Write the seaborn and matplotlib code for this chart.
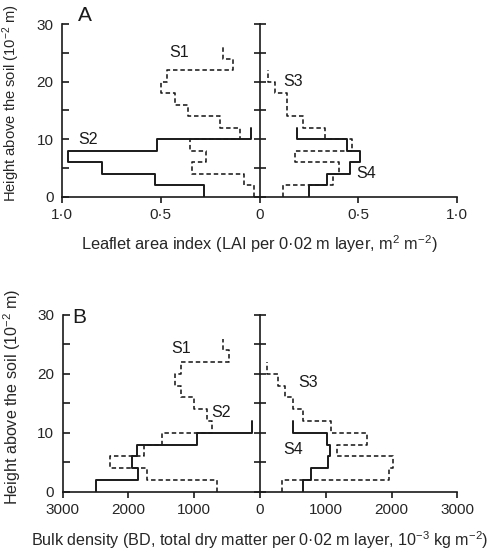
import pandas as pd
import matplotlib
matplotlib.use("Agg")
import matplotlib.pyplot as plt
import seaborn as sns
from matplotlib.ticker import FuncFormatter

# layer thickness in 10^-2 m, values listed from the soil upwards
LAYER = 2

# panel A: leaflet area index per 0.02 m layer
lai_s1 = [0.03, 0.08, 0.34, 0.27, 0.35, 0.10, 0.20, 0.36, 0.43, 0.50, 0.47, 0.135, 0.185]
lai_s2 = [0.28, 0.53, 0.80, 0.97, 0.52, 0.045]
lai_s3 = [0.12, 0.37, 0.40, 0.18, 0.47, 0.33, 0.22, 0.14, 0.14, 0.08, 0.04]
lai_s4 = [0.25, 0.34, 0.46, 0.51, 0.44, 0.19]

# panel B: bulk density per 0.02 m layer
bd_s1 = [655, 1720, 2280, 1760, 1490, 735, 810, 1000, 1200, 1290, 1200, 470, 560]
bd_s2 = [2490, 1850, 1940, 1870, 960, 130]
bd_s3 = [335, 1955, 2025, 1170, 1630, 1085, 650, 495, 385, 275, 110]
bd_s4 = [645, 770, 1035, 1060, 1020, 500]

lai_ticks = [-1.0, -0.5, 0, 0.5, 1.0]
bd_ticks = [-3000, -2000, -1000, 0, 1000, 2000, 3000]

sns.set_theme(style="ticks")
plt.rcParams["font.family"] = ["Liberation Sans", "DejaVu Sans"]
plt.rcParams["mathtext.fontset"] = "custom"
plt.rcParams["mathtext.rm"] = "Liberation Sans"

INK = "#1a1a1a"
TICK_SIZE = 11
YLABEL = "Height above the soil (10$\\mathregular{^{-2}}$ m)"


def step_profile(values, side):
    """Expand layer values into a vertical step outline (side=-1 for left)."""
    rows = []
    for i, v in enumerate(values):
        rows.append((side * v, i * LAYER))
        rows.append((side * v, (i + 1) * LAYER))
    return pd.DataFrame(rows, columns=["x", "height"])


def draw_profile(ax, values, side, dashed):
    df = step_profile(values, side)
    sns.lineplot(data=df, x="x", y="height", sort=False, estimator=None,
                 color=INK, lw=1.15 if dashed else 1.4,
                 ls=(0, (2.8, 1.8)) if dashed else "-", ax=ax)


def style_axes(ax, ticks, fmt, xlabel, xsize, ysize, ymid):
    lim = ticks[-1]
    ax.set_xlim(-lim, lim)
    ax.set_ylim(0, 30)
    ax.set_xticks(ticks)
    ax.xaxis.set_major_formatter(FuncFormatter(fmt))
    ax.set_yticks([0, 10, 20, 30])
    ax.set_yticks([5, 15, 25], minor=True)
    for s in ["top", "right"]:
        ax.spines[s].set_visible(False)
    for s in ["left", "bottom"]:
        ax.spines[s].set_linewidth(1.2)
        ax.spines[s].set_color(INK)
    ax.tick_params(axis="y", which="both", direction="in", length=5,
                   width=1.2, color=INK, labelsize=TICK_SIZE, pad=6)
    ax.tick_params(axis="x", direction="out", length=4, width=1.2,
                   color=INK, labelsize=TICK_SIZE, pad=4)
    ax.set_xlabel(xlabel, fontsize=xsize)
    ax.set_ylabel(YLABEL, fontsize=ysize)
    ax.yaxis.set_label_coords(-0.101, ymid)
    ax.xaxis.set_label_coords(0.5, -0.212)

    # centre axis at x = 0 with ticks crossing it
    center = ax.twinx()
    center.set_ylim(0, 30)
    center.set_yticks([0, 10, 20, 30])
    center.set_yticks([5, 15, 25], minor=True)
    for s in ["top", "left", "bottom"]:
        center.spines[s].set_visible(False)
    center.spines["right"].set_position(("data", 0))
    center.spines["right"].set_linewidth(1.2)
    center.spines["right"].set_color(INK)
    center.tick_params(axis="y", which="both", direction="inout", length=8,
                       width=1.2, color=INK, labelright=False)
    center.grid(False)


def lai_fmt(v, pos):
    if v == 0:
        return "0"
    return f"{abs(v):.1f}".replace(".", "\u00b7")


def bd_fmt(v, pos):
    return f"{abs(v):.0f}"


fig = plt.figure(figsize=(4.94, 5.53), dpi=100)
axA = fig.add_axes([0.1255, 0.6438, 0.8, 0.3128])
axB = fig.add_axes([0.1269, 0.1109, 0.7992, 0.3195])

draw_profile(axA, lai_s1, -1, True)
draw_profile(axA, lai_s2, -1, False)
draw_profile(axA, lai_s3, 1, True)
draw_profile(axA, lai_s4, 1, False)
style_axes(axA, lai_ticks, lai_fmt,
           "Leaflet area index (LAI per 0\u00b702 m layer, m$\\mathregular{^{2}}$ m$\\mathregular{^{-2}}$)",
           11.8, 10.6, 0.543)

draw_profile(axB, bd_s1, -1, True)
draw_profile(axB, bd_s2, -1, False)
draw_profile(axB, bd_s3, 1, True)
draw_profile(axB, bd_s4, 1, False)
style_axes(axB, bd_ticks, bd_fmt,
           "Bulk density (BD, total dry matter per 0\u00b702 m layer, 10$\\mathregular{^{-3}}$ kg m$\\mathregular{^{-2}}$)",
           11.6, 11.6, 0.536)

# series labels
lbl = dict(fontsize=11.5, color=INK, ha="center", va="center")
axA.text(-0.41, 25, "S1", **lbl)
axA.text(-0.87, 10, "S2", **lbl)
axA.text(0.17, 20.1, "S3", **lbl)
axA.text(0.54, 4.0, "S4", **lbl)
axB.text(-1200, 24.3, "S1", **lbl)
axB.text(-600, 13.4, "S2", **lbl)
axB.text(725, 18.5, "S3", **lbl)
axB.text(500, 7.2, "S4", **lbl)

axA.text(0.058, 1.05, "A", transform=axA.transAxes, fontsize=15,
         ha="center", va="center", color=INK)
axB.text(0.041, 0.983, "B", transform=axB.transAxes, fontsize=15,
         ha="center", va="center", color=INK)

fig.savefig("out.png", dpi=100)
plt.close(fig)
